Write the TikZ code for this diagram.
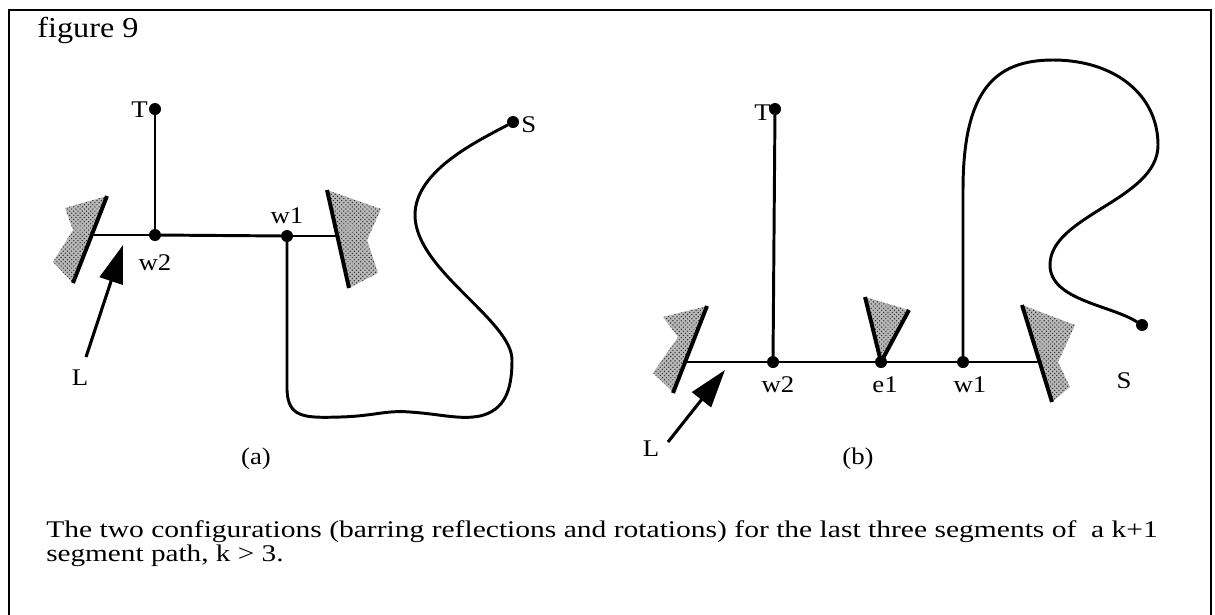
\documentclass[tikz,border=0pt]{standalone}
\usepackage{fontspec}
\setmainfont{Liberation Serif}[FakeStretch=1.12]
\usetikzlibrary{arrows.meta,patterns}
\newcommand\lblfont{\fontsize{17}{20}\selectfont}
\newcommand\figfont{\fontsize{20.5}{24}\selectfont}
\newcommand\capfont{\fontsize{17}{20}\selectfont}
\tikzset{
  dot/.style={circle,fill=black,inner sep=0pt,minimum size=0.3cm},
  lbl/.style={font=\lblfont,inner sep=0pt,anchor=base},
  pathline/.style={line width=2.1pt,line cap=round,line join=round},
  thinline/.style={line width=1.5pt},
  wall/.style={line width=2.8pt},
  hatch/.style={fill=black!28,postaction={pattern=crosshatch dots,pattern color=black!85}},
  arr/.style={line width=2.2pt,-{Triangle[length=27pt,width=17pt]}},
}
\begin{document}
\begin{tikzpicture}[x=0.025cm,y=-0.025cm]
\useasboundingbox (0,0) rectangle (1215,614);
% frame
\draw[line width=2pt] (9,640) -- (9,10) -- (1211,10) -- (1211,640);
\node[font=\figfont,inner sep=0pt,anchor=base west] (fig) at (37,37) {figure 9};

% ---------------- panel (a) ----------------
% left wall
\fill[hatch] (107,196) -- (65,208) -- (73,230) -- (53,262) -- (73,283) -- cycle;
\draw[wall] (107,196) -- (73,283);
% right wall
\fill[hatch] (327,190) -- (381,209) -- (367,240) -- (378,273) -- (349,288) -- cycle;
\draw[wall] (327,190) -- (349,288);
\coordinate (awl) at (93,235);
\coordinate (awr) at (337,236);
\node[dot] (aT) at (155,109) {};
\node[dot] (aw2) at (155,235) {};
\node[dot] (aw1) at (287,236) {};
\node[dot] (aS) at (513,122) {};
\draw[pathline] (aT) -- (aw2);
\draw[thinline] (awl) -- (aw2);
\draw[pathline] (aw2) -- (aw1);
\draw[thinline] (aw1) -- (awr);
\draw[pathline] (aw1) -- (287,390)
  .. controls (288,418) and (305,418) .. (340,417)
  .. controls (375,416) and (385,410) .. (410,412)
  .. controls (440,414) and (460,420) .. (480,416)
  .. controls (505,410) and (512,390) .. (512,360)
  .. controls (512,320) and (415,270) .. (415,215)
  .. controls (415,170) and (480,140) .. (aS);
\coordinate (aLt) at (86,357);
\coordinate (aLh) at (123,245);
\draw[arr] (aLt) -- (aLh);
\node[lbl,anchor=base east] (aTl) at (148,117) {T};
\node[lbl] (aw2l) at (155,270) {w2};
\node[lbl] (aw1l) at (287,223) {w1};
\node[lbl,anchor=base west] (aSl) at (521,132) {S};
\node[lbl] (aLl) at (80,385) {L};
\node[lbl] (acap) at (256,464) {(a)};

% ---------------- panel (b) ----------------
% left wall
\fill[hatch] (707,306) -- (663,317) -- (678,337) -- (653,373) -- (673,392) -- cycle;
\draw[wall] (707,306) -- (673,393);
% e1 wedge
\fill[hatch] (881,362) -- (865,297) -- (909,310) -- cycle;
\draw[wall] (865,297) -- (881,362) -- (909,310);
% right wall
\fill[hatch] (1022,305) -- (1075,325) -- (1058,362) -- (1070,387) -- (1052,402) -- cycle;
\draw[wall] (1022,305) -- (1052,402);
\coordinate (bwl) at (685,362);
\coordinate (bwr) at (1039,362);
\node[dot] (bT) at (775,109) {};
\node[dot] (bw2) at (773,362) {};
\node[dot] (be1) at (881,362) {};
\node[dot] (bw1) at (963,362) {};
\node[dot] (bS) at (1142,325) {};
\draw[pathline] (bT) -- (bw2);
\draw[thinline] (bwl) -- (bw2);
\draw[pathline] (bw2) -- (be1) -- (bw1);
\draw[thinline] (bw1) -- (bwr);
\draw[pathline] (bw1) -- (963,190)
  .. controls (963,90) and (995,60) .. (1053,60)
  .. controls (1115,60) and (1158,95) .. (1158,145)
  .. controls (1158,200) and (1050,215) .. (1050,265)
  .. controls (1050,300) and (1110,305) .. (bS);
\coordinate (bLt) at (668,442);
\coordinate (bLh) at (725,370);
\draw[arr] (bLt) -- (bLh);
\node[lbl,anchor=base east] (bTl) at (771,120) {T};
\node[lbl] (bw2l) at (778,392) {w2};
\node[lbl] (be1l) at (885,392) {e1};
\node[lbl] (bw1l) at (970,392) {w1};
\node[lbl] (bSl) at (1124,388) {S};
\node[lbl] (bLl) at (651,456) {L};
\node[lbl] (bcap) at (858,464) {(b)};

% caption
\node[inner sep=0pt,anchor=base west] (cap1) at (46,537)
  {\resizebox{27.78cm}{\height}{\capfont The two configurations (barring reflections and rotations) for the last three segments of\ \ a k+1}};
\node[inner sep=0pt,anchor=base west] (cap2) at (46,561)
  {\resizebox{5.93cm}{\height}{\capfont segment path, k > 3.}};
\end{tikzpicture}
\end{document}
